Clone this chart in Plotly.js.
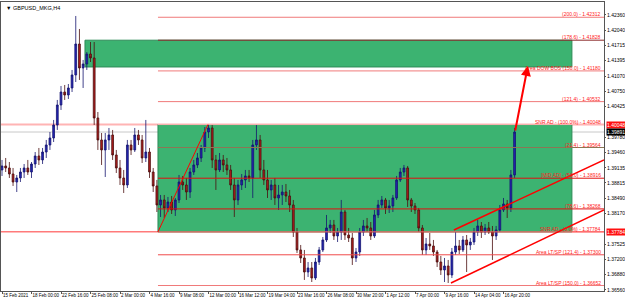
<!DOCTYPE html>
<html><head><meta charset="utf-8">
<script src="https://cdn.plot.ly/plotly-3.0.1.min.js"></script>
<style>html,body{margin:0;padding:0;background:#fff}#c{width:625px;height:301px}</style>
</head><body><div id="c"></div>
<script>
// H4 candles aggregated in pairs (bar index = 2*i)
const openP = [1.39090,1.39174,1.39132,1.39005,1.38836,1.38921,1.39047,1.39132,1.39047,1.39216,
1.39385,1.39301,1.39469,1.39617,1.39765,1.40039,1.40461,1.40735,1.40672,1.40820,
1.41094,1.41748,1.41242,1.41326,1.41537,1.41453,1.40187,1.39723,1.39512,1.39723,
1.39828,1.39406,1.39132,1.38921,1.38773,1.39617,1.39512,1.39828,1.39723,1.39343,
1.39469,1.39047,1.38752,1.38351,1.38457,1.38288,1.38414,1.38246,1.38457,1.38836,
1.38773,1.38625,1.39047,1.39195,1.39343,1.39554,1.39891,1.39976,1.39301,1.39090,
1.39301,1.39195,1.39090,1.38773,1.38457,1.38773,1.38879,1.38963,1.38921,1.39617,
1.39723,1.39090,1.38879,1.38668,1.38773,1.38499,1.38562,1.38625,1.38541,1.38351,
1.37781,1.37402,1.37233,1.36937,1.37022,1.36811,1.37148,1.37402,1.37613,1.37866,
1.37929,1.37697,1.37781,1.38203,1.37718,1.37655,1.37233,1.37359,1.37781,1.37908,
1.37866,1.37697,1.38140,1.38351,1.38457,1.38288,1.38330,1.38499,1.38879,1.39047,
1.39132,1.38457,1.38330,1.38246,1.37866,1.37402,1.37528,1.37486,1.37359,1.37148,
1.36980,1.37064,1.36874,1.37359,1.37486,1.37402,1.37613,1.37507,1.37570,1.37781,
1.37908,1.37781,1.37866,1.37781,1.37697,1.37824,1.38246,1.38372,1.38288,1.38984];
const highP = [1.39301,1.39343,1.39258,1.39132,1.38984,1.39132,1.39216,1.39301,1.39258,1.39469,
1.39554,1.39554,1.39723,1.39891,1.40145,1.40567,1.40862,1.40883,1.40904,1.41200,
1.42339,1.42065,1.41411,1.41579,1.41790,1.41790,1.40313,1.39870,1.39870,1.39976,
1.39934,1.39512,1.39301,1.39090,1.39723,1.39723,1.39976,1.39934,1.39828,1.40145,
1.39554,1.39132,1.38879,1.38562,1.38562,1.38520,1.38541,1.38499,1.38984,1.38963,
1.38921,1.39132,1.39301,1.39448,1.39617,1.39997,1.40060,1.40039,1.39406,1.39448,
1.39406,1.39343,1.39195,1.38921,1.38879,1.39005,1.39090,1.39090,1.39723,1.40039,
1.39828,1.39301,1.39090,1.38879,1.38921,1.38773,1.38773,1.38794,1.38668,1.38457,
1.37866,1.37507,1.37402,1.37148,1.37148,1.37233,1.37465,1.37676,1.38140,1.38035,
1.38035,1.37866,1.38457,1.38246,1.37866,1.37760,1.37444,1.37866,1.38035,1.38077,
1.37992,1.38246,1.38457,1.38541,1.38499,1.38457,1.38562,1.38963,1.39132,1.39195,
1.39174,1.38499,1.38393,1.38288,1.37929,1.37655,1.37760,1.37613,1.37402,1.37275,
1.37233,1.37191,1.37444,1.37781,1.37613,1.37697,1.37718,1.37655,1.37866,1.38035,
1.37992,1.37950,1.37992,1.37908,1.37908,1.38351,1.38499,1.38457,1.39090,1.39976];
const lowP = [1.38963,1.39047,1.38921,1.38752,1.38625,1.38836,1.38921,1.38984,1.38921,1.39132,
1.39195,1.39216,1.39343,1.39512,1.39680,1.39934,1.40356,1.40567,1.40588,1.40735,
1.40946,1.40989,1.40820,1.41200,1.41368,1.40039,1.39512,1.39195,1.38942,1.39512,
1.39301,1.39026,1.38773,1.38604,1.38710,1.39406,1.39469,1.39617,1.39237,1.39258,
1.38921,1.38625,1.38203,1.38098,1.38077,1.38203,1.38161,1.38119,1.38393,1.38668,
1.38457,1.38499,1.38984,1.39132,1.39258,1.39469,1.39765,1.39132,1.38668,1.39047,
1.39047,1.38984,1.38668,1.38098,1.38351,1.38668,1.38710,1.38836,1.38499,1.39512,
1.38921,1.38773,1.38499,1.38457,1.38351,1.38246,1.38351,1.38414,1.38203,1.37676,
1.37338,1.37127,1.36769,1.36832,1.36726,1.36769,1.37085,1.37359,1.37570,1.37760,
1.37613,1.37570,1.37613,1.37613,1.37570,1.37085,1.37148,1.37275,1.37697,1.37781,
1.37613,1.37655,1.38077,1.38288,1.38161,1.38182,1.38203,1.38457,1.38836,1.38963,
1.38309,1.38203,1.38161,1.37781,1.37296,1.37296,1.37402,1.37275,1.37043,1.36874,
1.36726,1.36705,1.36811,1.37296,1.37317,1.37359,1.36937,1.37402,1.37507,1.37697,
1.37655,1.37718,1.37739,1.37191,1.37613,1.37781,1.38203,1.38077,1.38203,1.38921];
const closeP = [1.39174,1.39132,1.39005,1.38836,1.38921,1.39047,1.39132,1.39047,1.39216,1.39385,
1.39301,1.39469,1.39617,1.39765,1.40039,1.40461,1.40735,1.40672,1.40820,1.41094,
1.41748,1.41242,1.41326,1.41537,1.41453,1.40187,1.39723,1.39512,1.39723,1.39828,
1.39406,1.39132,1.38921,1.38773,1.39617,1.39512,1.39828,1.39723,1.39343,1.39469,
1.39047,1.38752,1.38351,1.38457,1.38288,1.38414,1.38246,1.38457,1.38836,1.38773,
1.38625,1.39047,1.39195,1.39343,1.39554,1.39891,1.39976,1.39301,1.39090,1.39301,
1.39195,1.39090,1.38773,1.38457,1.38773,1.38879,1.38963,1.38921,1.39617,1.39723,
1.39090,1.38879,1.38668,1.38773,1.38499,1.38562,1.38625,1.38541,1.38351,1.37781,
1.37402,1.37233,1.36937,1.37022,1.36811,1.37148,1.37402,1.37613,1.37866,1.37929,
1.37697,1.37781,1.38203,1.37718,1.37655,1.37233,1.37359,1.37781,1.37908,1.37866,
1.37697,1.38140,1.38351,1.38457,1.38288,1.38330,1.38499,1.38879,1.39047,1.39132,
1.38457,1.38330,1.38246,1.37866,1.37402,1.37528,1.37486,1.37359,1.37148,1.36980,
1.37064,1.36874,1.37359,1.37486,1.37402,1.37613,1.37507,1.37570,1.37781,1.37908,
1.37781,1.37866,1.37781,1.37697,1.37824,1.38246,1.38372,1.38288,1.38984,1.39891];

const xTickBars = [0,16,32,48,64,80,96,112,128,144,160,176,192,208,224,240,256,272];
const xTickText = ["15 Feb 2021","18 Feb 00:00","22 Feb 16:00","25 Feb 08:00","2 Mar 00:00","4 Mar 16:00","9 Mar 08:00","12 Mar 00:00","16 Mar 12:00","19 Mar 04:00","23 Mar 16:00","26 Mar 08:00","30 Mar 20:00","1 Apr 12:00","7 Apr 00:00","9 Apr 16:00","14 Apr 04:00","16 Apr 20:00"];
const yTickVals = [1.42360,1.42040,1.41715,1.41395,1.41070,1.40750,1.40425,1.39780,1.39460,1.39135,1.38815,1.38490,1.38170,1.37525,1.37200,1.36880,1.36560];

const fibPrices = [1.42312,1.41828,1.41180,1.40532,1.40048,1.39564,1.38916,1.38268,1.37784,1.37300,1.36652];
const fibTexts = ["(200.0) - 1.42312","(178.6) - 1.41828","Area DOW BOS (150.0) - 1.41180","(121.4) - 1.40532","SNR AD - (100.0%) - 1.40048","(21.4) - 1.39564","[MID AD] - (50.0) - 1.38916","(78.6) - 1.38268","SNR AD - (0.0%) - 1.37784","Area LT/SP (121.4) - 1.37300","Area LT/SP (150.0) - 1.36652"];
const fibColors = ["#f07a7a","#8b2a2a","#f07a7a","#f07a7a","#ffb4b4","#8c7654","#e01010","#e01010","#ff6a6a","#f04a4a","#f07a7a"];

const zoneLower = {x:[84.6,309.1], y:[1.37784,1.40048]};
const zoneUpper = {x:[45,309.1], y:[1.41263,1.41828]};
const fibStartBar = 84.6;
const hLines = {prices:[1.40048,1.39891,1.37784], colors:["#ffb4b4","#c8c8c8","#ff7a7a"], widths:[2,1,1.5]};
const trendLines = [
  {x:[84.6,111.7], y:[1.37784,1.40048], w:1},
  {x:[245.1,326.5], y:[1.37824,1.39301], w:1.5},
  {x:[243.5,326.5], y:[1.36705,1.38246], w:1.5}
];
const arrow = {tail:[278.2,1.39891], head:[285.2,1.41284]};
const axisTags = [{p:1.40048,t:"1.40048",bg:"#ff1010"},{p:1.39891,t:"1.39891",bg:"#000000"},{p:1.37784,t:"1.37784",bg:"#ff1010"}];

const xr = [-0.54, 326.5];
const barIdx = openP.map((_, i) => 2*i);

const trace = {
  type:'candlestick', x:barIdx, open:openP, high:highP, low:lowP, close:closeP,
  increasing:{line:{color:'#14146e',width:0.8}, fillcolor:'#2424b4'},
  decreasing:{line:{color:'#4a0e0e',width:0.8}, fillcolor:'#b01c1c'},
  whiskerwidth:0, hoverinfo:'skip', showlegend:false
};

const shapes = [];
[zoneUpper, zoneLower].forEach(z => shapes.push({type:'rect', xref:'x', yref:'y', x0:z.x[0], x1:z.x[1], y0:z.y[0], y1:z.y[1],
  fillcolor:'#3cb371', line:{color:'#2e8b57', width:1}, layer:'below'}));
hLines.prices.forEach((p,i) => shapes.push({type:'line', xref:'paper', yref:'y', x0:0, x1:1, y0:p, y1:p, line:{color:hLines.colors[i], width:hLines.widths[i]}, layer:'below'}));
fibPrices.forEach((p,i) => shapes.push({type:'line', xref:'x', yref:'y', x0:fibStartBar, x1:xr[1], y0:p, y1:p, line:{color:fibColors[i], width:1}}));
trendLines.forEach(t => shapes.push({type:'line', xref:'x', yref:'y', x0:t.x[0], x1:t.x[1], y0:t.y[0], y1:t.y[1], line:{color:'#ff0000', width:t.w}}));

const F = "Liberation Sans, Arial, sans-serif";
const annotations = [];
fibPrices.forEach((p,i) => annotations.push({xref:'paper', yref:'y', x:0.998, y:p, text:fibTexts[i], showarrow:false,
  xanchor:'right', yanchor:'bottom', yshift:-2, font:{family:F, size:5, color:'#ff2020'}}));
axisTags.forEach(a => annotations.push({xref:'paper', yref:'y', x:1.003, y:a.p, text:a.t, showarrow:false, xanchor:'left', yanchor:'middle',
  bgcolor:a.bg, borderpad:0, font:{family:F, size:5, color:'#ffffff'}}));
annotations.push({xref:'x', yref:'y', x:arrow.head[0], y:arrow.head[1], ax:arrow.tail[0], ay:arrow.tail[1], axref:'x', ayref:'y',
  showarrow:true, arrowhead:2, arrowsize:1, arrowwidth:2, arrowcolor:'#ff0000', text:''});
annotations.push({xref:'paper', yref:'paper', x:0.005, y:0.998, xanchor:'left', yanchor:'top', showarrow:false,
  text:'\u25BC GBPUSD_MKG,H4', font:{family:F, size:5.5, color:'#000'}});

const layout = {
  width:625, height:301, margin:{l:1, r:21, t:2, b:10},
  paper_bgcolor:'#ffffff', plot_bgcolor:'#ffffff', showlegend:false,
  xaxis:{range:xr, rangeslider:{visible:false}, showgrid:false, zeroline:false, showline:true, mirror:true, linecolor:'#555', linewidth:1,
    tickmode:'array', tickvals:xTickBars, ticktext:xTickText, ticks:'outside', ticklen:2, tickcolor:'#555', tickangle:0,
    ticklabelposition:'outside right', tickfont:{family:F, size:4.5, color:'#000'}},
  yaxis:{range:[1.36536,1.42634], side:'right', showgrid:false, zeroline:false, showline:true, mirror:true, linecolor:'#555', linewidth:1,
    tickmode:'array', tickvals:yTickVals, ticktext:yTickVals.map(v=>v.toFixed(5)), ticks:'outside', ticklen:1, tickcolor:'#555',
    tickfont:{family:F, size:5, color:'#000'}},
  shapes:shapes, annotations:annotations
};
Plotly.newPlot('c', [trace], layout, {staticPlot:true, displayModeBar:false});
</script></body></html>
